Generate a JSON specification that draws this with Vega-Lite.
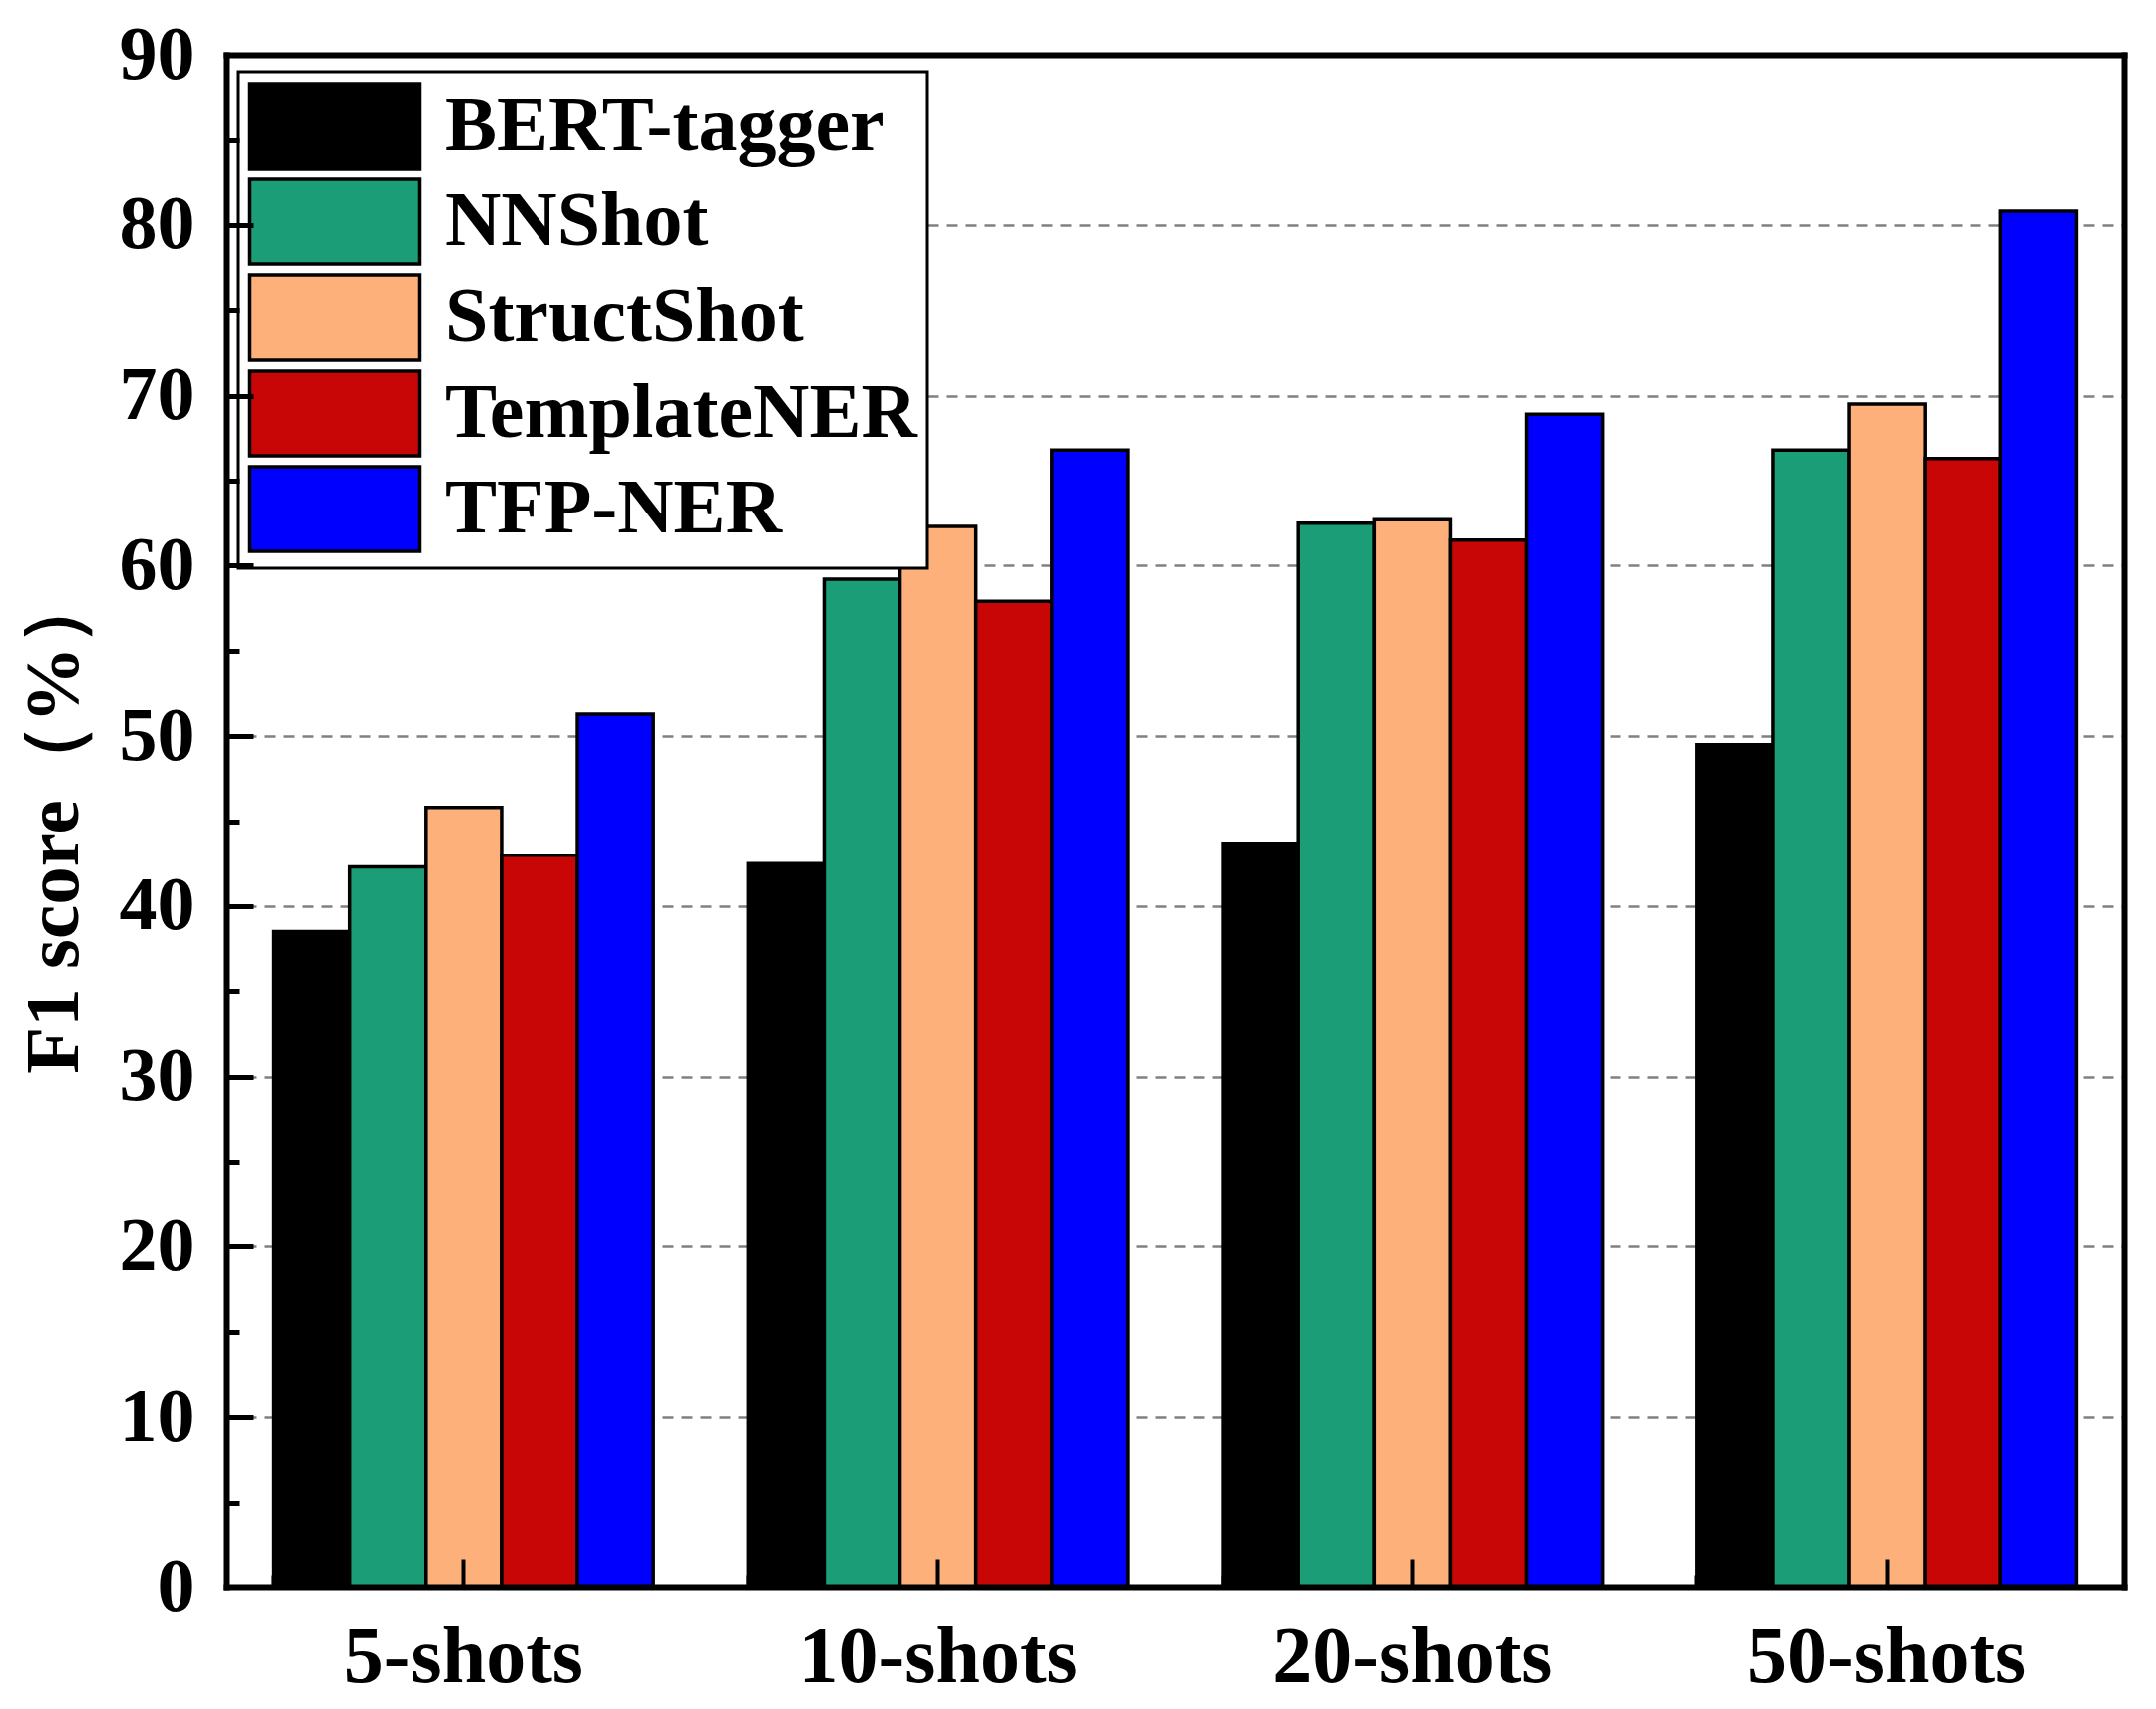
{
  "$schema": "https://vega.github.io/schema/vega-lite/v6.json",
  "width": 1903,
  "height": 1537,
  "autosize": {"type": "none"},
  "padding": {"left": 227, "top": 55, "right": 32, "bottom": 122},
  "background": "white",
  "data": {
    "values": [
      {"shots": "5-shots", "method": "BERT-tagger", "f1": 38.5},
      {"shots": "5-shots", "method": "NNShot", "f1": 42.3},
      {"shots": "5-shots", "method": "StructShot", "f1": 45.8},
      {"shots": "5-shots", "method": "TemplateNER", "f1": 43.0},
      {"shots": "5-shots", "method": "TFP-NER", "f1": 51.3},
      {"shots": "10-shots", "method": "BERT-tagger", "f1": 42.5},
      {"shots": "10-shots", "method": "NNShot", "f1": 59.2},
      {"shots": "10-shots", "method": "StructShot", "f1": 62.3},
      {"shots": "10-shots", "method": "TemplateNER", "f1": 57.9},
      {"shots": "10-shots", "method": "TFP-NER", "f1": 66.8},
      {"shots": "20-shots", "method": "BERT-tagger", "f1": 43.7},
      {"shots": "20-shots", "method": "NNShot", "f1": 62.5},
      {"shots": "20-shots", "method": "StructShot", "f1": 62.7},
      {"shots": "20-shots", "method": "TemplateNER", "f1": 61.5},
      {"shots": "20-shots", "method": "TFP-NER", "f1": 68.9},
      {"shots": "50-shots", "method": "BERT-tagger", "f1": 49.5},
      {"shots": "50-shots", "method": "NNShot", "f1": 66.8},
      {"shots": "50-shots", "method": "StructShot", "f1": 69.5},
      {"shots": "50-shots", "method": "TemplateNER", "f1": 66.3},
      {"shots": "50-shots", "method": "TFP-NER", "f1": 80.8}
    ]
  },
  "layer": [
    {
      "mark": {"type": "bar", "stroke": "black", "strokeWidth": 3.5},
      "encoding": {
        "x": {
          "field": "shots", "type": "nominal",
          "sort": ["5-shots", "10-shots", "20-shots", "50-shots"],
          "scale": {"paddingInner": 0.2, "paddingOuter": 0.1},
          "axis": {
            "orient": "bottom", "ticks": false, "domain": false, "grid": false,
            "labelAngle": 0, "labelFontSize": 80, "labelFontWeight": "bold",
            "labelColor": "black", "labelPadding": 31, "labelLimit": 1000, "title": null
          }
        },
        "xOffset": {
          "field": "method", "type": "nominal",
          "sort": ["BERT-tagger", "NNShot", "StructShot", "TemplateNER", "TFP-NER"],
          "scale": {"paddingInner": 0, "paddingOuter": 0}
        },
        "y": {
          "field": "f1", "type": "quantitative",
          "scale": {"domain": [0, 90], "nice": false},
          "axis": {
            "orient": "left", "values": [0, 10, 20, 30, 40, 50, 60, 70, 80, 90],
            "ticks": false, "domain": false, "grid": true,
            "gridColor": "#808080", "gridDash": [11, 8], "gridWidth": 2.5,
            "labelFontSize": 76, "labelFontWeight": "bold", "labelColor": "black",
            "labelPadding": 32,
            "title": "F1 score（%）", "titleFontSize": 77, "titleFontWeight": "bold",
            "titleColor": "black", "titlePadding": 26
          }
        },
        "color": {
          "field": "method", "type": "nominal",
          "scale": {
            "domain": ["BERT-tagger", "NNShot", "StructShot", "TemplateNER", "TFP-NER"],
            "range": ["#000000", "#1b9e77", "#fdb07a", "#c80606", "#0000ff"]
          },
          "legend": {
            "title": null, "orient": "none", "legendX": 12, "legendY": 17,
            "padding": 10, "fillColor": "white", "strokeColor": "black",
            "symbolType": "M-2,-1H2V1H-2Z", "symbolSize": 7225,
            "symbolStrokeColor": "black", "symbolStrokeWidth": 3.5, "symbolOpacity": 1,
            "symbolOffset": 42, "labelOffset": 66,
            "labelFontSize": 78, "labelFontWeight": "bold", "labelColor": "black",
            "labelLimit": 1000, "rowPadding": -3
          }
        }
      }
    },
    {
      "mark": {"type": "point", "opacity": 0},
      "encoding": {
        "x": {
          "field": "shots", "type": "nominal",
          "sort": ["5-shots", "10-shots", "20-shots", "50-shots"],
          "axis": {
            "orient": "bottom", "labels": false, "grid": false,
            "domain": true, "domainColor": "black", "domainWidth": 6, "domainCap": "square",
            "tickSize": -28, "tickWidth": 4, "tickColor": "black", "title": null, "zindex": 2
          }
        },
        "y": {
          "field": "f1", "type": "quantitative",
          "axis": {
            "orient": "left", "values": [0, 10, 20, 30, 40, 50, 60, 70, 80, 90],
            "labels": false, "grid": false,
            "domain": true, "domainColor": "black", "domainWidth": 6, "domainCap": "square",
            "tickSize": -27, "tickWidth": 5, "tickColor": "black", "title": null, "zindex": 2
          }
        }
      }
    },
    {
      "mark": {"type": "point", "opacity": 0},
      "encoding": {
        "x": {
          "field": "shots", "type": "nominal",
          "sort": ["5-shots", "10-shots", "20-shots", "50-shots"],
          "axis": {
            "orient": "bottom", "labels": false, "domain": false, "grid": false,
            "bandPosition": 0,
            "tickSize": -12, "tickWidth": 4, "tickColor": "black", "title": null, "zindex": 2
          }
        },
        "y": {
          "field": "f1", "type": "quantitative",
          "axis": {
            "orient": "left", "values": [5, 15, 25, 35, 45, 55, 65, 75, 85],
            "labels": false, "domain": false, "grid": false,
            "tickSize": -13, "tickWidth": 5, "tickColor": "black", "title": null, "zindex": 2
          }
        }
      }
    },
    {
      "mark": {"type": "point", "opacity": 0},
      "encoding": {
        "x": {
          "field": "shots", "type": "nominal",
          "sort": ["5-shots", "10-shots", "20-shots", "50-shots"],
          "axis": {
            "orient": "top", "labels": false, "ticks": false, "grid": false,
            "domain": true, "domainColor": "black", "domainWidth": 6, "domainCap": "square",
            "title": null, "zindex": 2
          }
        },
        "y": {
          "field": "f1", "type": "quantitative",
          "axis": {
            "orient": "right", "labels": false, "ticks": false, "grid": false,
            "domain": true, "domainColor": "black", "domainWidth": 6, "domainCap": "square",
            "title": null, "zindex": 2
          }
        }
      }
    }
  ],
  "resolve": {"axis": {"x": "independent", "y": "independent"}},
  "config": {
    "font": "Liberation Serif",
    "view": {"stroke": null},
    "legend": {"strokeWidth": 3}
  }
}
